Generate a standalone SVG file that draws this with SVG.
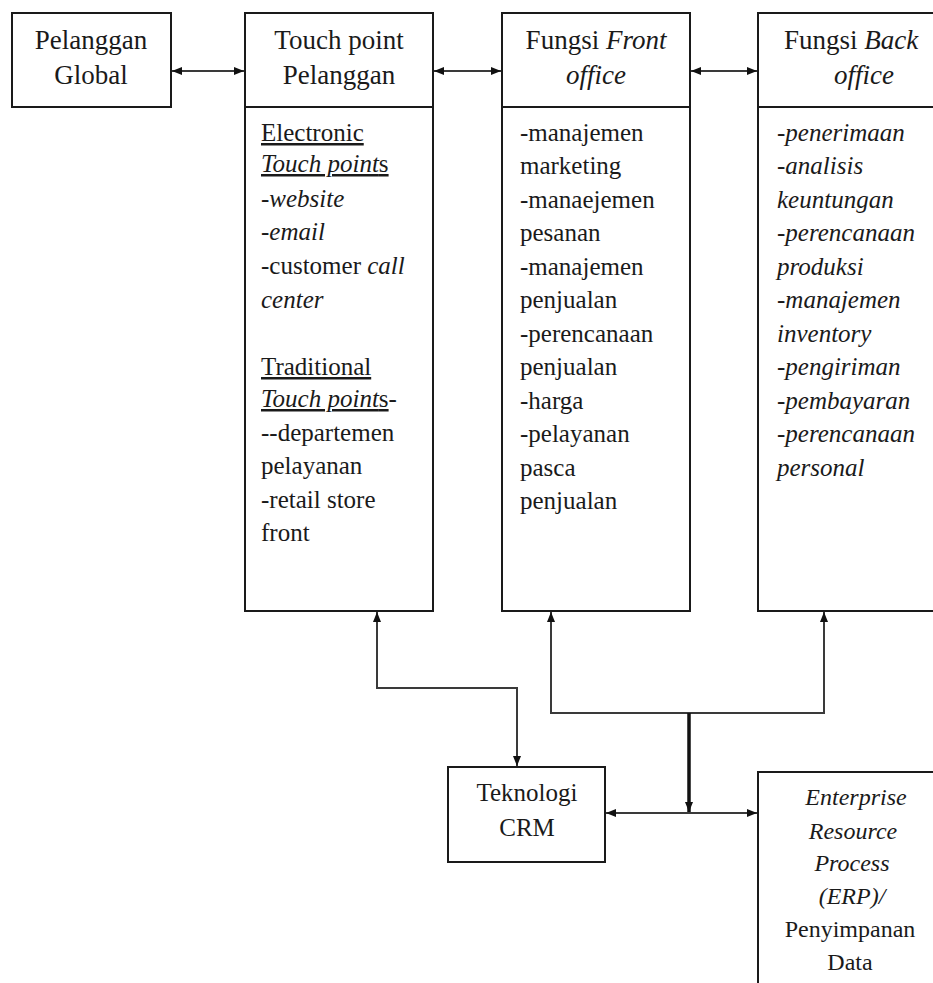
<svg xmlns="http://www.w3.org/2000/svg" width="933" height="983" viewBox="0 0 933 983">
<style>
.box{fill:#fff;stroke:#1a1a1a;stroke-width:2}
.t{font-family:'Liberation Serif','DejaVu Serif',serif;font-size:25px;fill:#1a1a1a}
.h{font-size:27px}
.e{font-size:24px}
.c{text-anchor:middle}
.i{font-style:italic}
.u{text-decoration:underline}
.ln{fill:none;stroke:#3a3a3a;stroke-width:2}
.thick{fill:none;stroke:#111;stroke-width:3.5}
</style>
<defs>
<marker id="ah" viewBox="0 0 10 8" refX="10" refY="4" markerWidth="10" markerHeight="8" markerUnits="userSpaceOnUse" orient="auto-start-reverse">
<path d="M0,0 L10,4 L0,8 z" fill="#111"/>
</marker>
</defs>
<rect width="933" height="983" fill="#fff"/>

<g id="pelanggan-global">
<rect class="box" x="12" y="13" width="159" height="94"/>
<text class="t h c" x="91" y="49">Pelanggan</text>
<text class="t h c" x="91" y="84">Global</text>
</g>

<g id="touch-point">
<rect class="box" x="245" y="13" width="188" height="94"/>
<rect class="box" x="245" y="107" width="188" height="504"/>
<text class="t h c" x="339" y="49">Touch point</text>
<text class="t h c" x="339" y="84">Pelanggan</text>
<text class="t" x="261" y="141"><tspan class="u">Electronic</tspan></text>
<text class="t" x="261" y="172"><tspan class="u"><tspan class="i">Touch point</tspan>s</tspan></text>
<text class="t i" x="261" y="207">-website</text>
<text class="t i" x="261" y="240">-email</text>
<text class="t" x="261" y="274">-customer <tspan class="i">call</tspan></text>
<text class="t i" x="261" y="308">center</text>
<text class="t" x="261" y="375"><tspan class="u">Traditional</tspan></text>
<text class="t" x="261" y="407"><tspan class="u"><tspan class="i">Touch point</tspan>s</tspan>-</text>
<text class="t" x="261" y="441">--departemen</text>
<text class="t" x="261" y="474">pelayanan</text>
<text class="t" x="261" y="508">-retail store</text>
<text class="t" x="261" y="541">front</text>
</g>

<g id="front-office">
<rect class="box" x="502" y="13" width="188" height="94"/>
<rect class="box" x="502" y="107" width="188" height="504"/>
<text class="t h c" x="596" y="49">Fungsi <tspan class="i">Front</tspan></text>
<text class="t h c i" x="596" y="84">office</text>
<text class="t" x="520" y="141">-manajemen</text>
<text class="t" x="520" y="174">marketing</text>
<text class="t" x="520" y="208">-manaejemen</text>
<text class="t" x="520" y="241">pesanan</text>
<text class="t" x="520" y="275">-manajemen</text>
<text class="t" x="520" y="308">penjualan</text>
<text class="t" x="520" y="342">-perencanaan</text>
<text class="t" x="520" y="375">penjualan</text>
<text class="t" x="520" y="409">-harga</text>
<text class="t" x="520" y="442">-pelayanan</text>
<text class="t" x="520" y="476">pasca</text>
<text class="t" x="520" y="509">penjualan</text>
</g>

<g id="back-office">
<rect class="box" x="758" y="13" width="190" height="94"/>
<rect class="box" x="758" y="107" width="190" height="504"/>
<text class="t h c" x="851" y="49">Fungsi <tspan class="i">Back</tspan></text>
<text class="t h c i" x="864" y="84">office</text>
<text class="t i" x="777" y="141">-penerimaan</text>
<text class="t i" x="777" y="174">-analisis</text>
<text class="t i" x="777" y="208">keuntungan</text>
<text class="t i" x="777" y="241">-perencanaan</text>
<text class="t i" x="777" y="275">produksi</text>
<text class="t i" x="777" y="308">-manajemen</text>
<text class="t i" x="777" y="342">inventory</text>
<text class="t i" x="777" y="375">-pengiriman</text>
<text class="t i" x="777" y="409">-pembayaran</text>
<text class="t i" x="777" y="442">-perencanaan</text>
<text class="t i" x="777" y="476">personal</text>
</g>

<g id="teknologi-crm">
<rect class="box" x="448" y="767" width="157" height="95"/>
<text class="t c" x="527" y="801">Teknologi</text>
<text class="t c" x="527" y="836">CRM</text>
</g>

<g id="erp">
<rect class="box" x="758" y="772" width="190" height="230"/>
<text class="t e c i" x="856" y="805">Enterprise</text>
<text class="t e c i" x="853" y="839">Resource</text>
<text class="t e c i" x="852" y="871">Process</text>
<text class="t e c i" x="852" y="904">(ERP)/</text>
<text class="t e c" x="850" y="937">Penyimpanan</text>
<text class="t e c" x="850" y="970">Data</text>
</g>

<g id="connectors">
<line class="ln" x1="172" y1="71" x2="244" y2="71" marker-start="url(#ah)" marker-end="url(#ah)"/>
<line class="ln" x1="434" y1="71" x2="501" y2="71" marker-start="url(#ah)" marker-end="url(#ah)"/>
<line class="ln" x1="691" y1="71" x2="757" y2="71" marker-start="url(#ah)" marker-end="url(#ah)"/>
<polyline class="ln" points="377,612 377,688 517,688 517,766" marker-start="url(#ah)" marker-end="url(#ah)"/>
<polyline class="ln" points="551,612 551,713 824,713 824,612" marker-start="url(#ah)" marker-end="url(#ah)"/>
<line class="thick" x1="689" y1="713" x2="689" y2="812" marker-end="url(#ah)"/>
<line class="ln" x1="606" y1="813" x2="757" y2="813" marker-start="url(#ah)" marker-end="url(#ah)"/>
</g>
</svg>
